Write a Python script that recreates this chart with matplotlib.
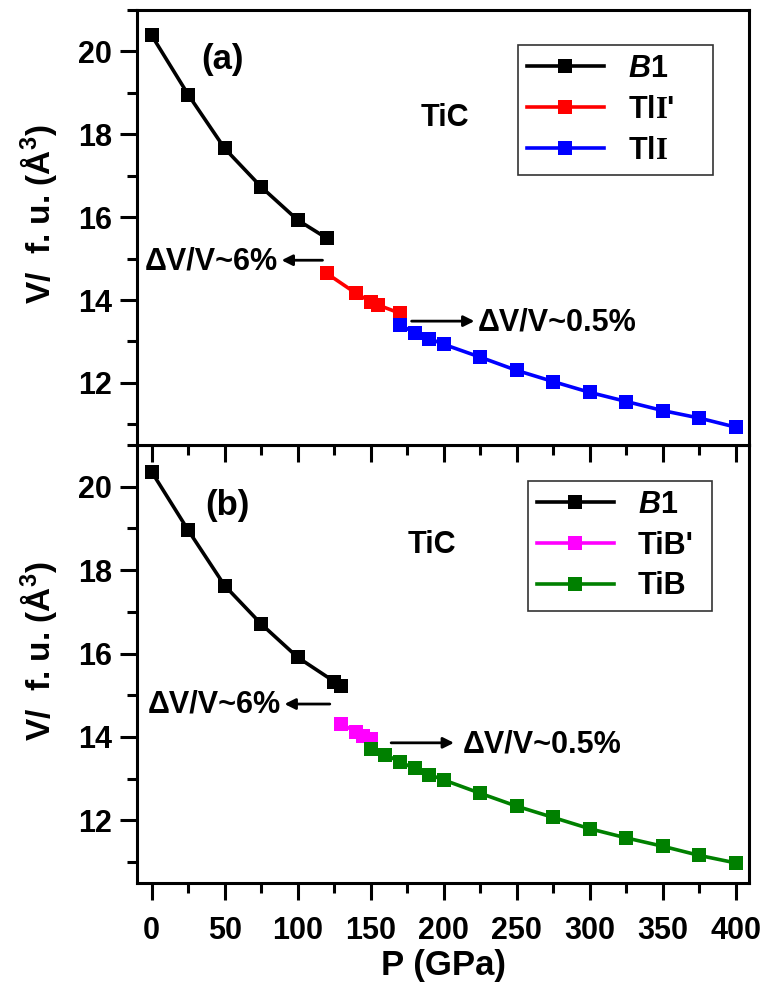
import matplotlib
matplotlib.use("Agg")
import matplotlib.pyplot as plt
from matplotlib.ticker import MultipleLocator

plt.rcParams['font.family'] = ['Liberation Sans', 'DejaVu Sans']
plt.rcParams['font.weight'] = 'bold'
plt.rcParams['mathtext.fontset'] = 'custom'
plt.rcParams['mathtext.rm'] = 'Liberation Serif:bold'
plt.rcParams['mathtext.it'] = 'Liberation Sans:bold:italic'
plt.rcParams['mathtext.bf'] = 'Liberation Sans:bold'

# panel (a): B1 -> TlI' -> TlI
p_b1_a = [0, 25, 50, 75, 100, 120]
v_b1_a = [20.39, 18.96, 17.66, 16.73, 15.93, 15.49]
p_tli2 = [120, 140, 150, 155, 170]
v_tli2 = [14.64, 14.16, 13.96, 13.88, 13.68]
p_tli = [170, 180, 190, 200, 225, 250, 275, 300, 325, 350, 375, 400]
v_tli = [13.40, 13.21, 13.07, 12.93, 12.62, 12.30, 12.03, 11.77, 11.55, 11.33, 11.15, 10.93]

# panel (b): B1 -> TiB' -> TiB
p_b1_b = [0, 25, 50, 75, 100, 125, 130]
v_b1_b = [20.36, 18.96, 17.63, 16.71, 15.91, 15.33, 15.23]
p_tib2 = [130, 140, 145, 150]
v_tib2 = [14.31, 14.12, 14.03, 13.95]
p_tib = [150, 160, 170, 180, 190, 200, 225, 250, 275, 300, 325, 350, 375, 400]
v_tib = [13.72, 13.58, 13.40, 13.25, 13.10, 12.97, 12.65, 12.34, 12.07, 11.80, 11.58, 11.38, 11.16, 10.98]

labels_a = ["$B$1", "Tl$\\mathrm{I}$'", "Tl$\\mathrm{I}$"]
labels_b = ["$B$1", "TiB'", "TiB"]

fig = plt.figure(figsize=(7.67, 9.9), dpi=100)
ax_a = fig.add_axes([0.1786, 0.5505, 0.798, 0.4394])
ax_b = fig.add_axes([0.1786, 0.1081, 0.798, 0.4424])
ax_a.set_zorder(3)

def style(ax, show_xlabels):
    for s in ax.spines.values():
        s.set_linewidth(2.2)
    ax.set_xlim(-10, 409)
    ax.set_ylim(10.5, 21)
    ax.xaxis.set_major_locator(MultipleLocator(50))
    ax.xaxis.set_minor_locator(MultipleLocator(25))
    ax.yaxis.set_major_locator(MultipleLocator(2))
    ax.yaxis.set_minor_locator(MultipleLocator(1))
    ax.tick_params(which='both', direction='out', top=False, right=False, width=2.2, labelsize=22)
    ax.tick_params(which='major', length=12)
    ax.tick_params(which='minor', length=7)
    ax.tick_params(axis='y', pad=6)
    ax.tick_params(axis='x', pad=12, labelbottom=show_xlabels)
    ax.set_ylabel("V/  f. u. (Å$^{\\mathbf{3}}$)", fontsize=24, fontweight='bold')
    ax.yaxis.set_label_coords(-0.128, 0.53)

def series(ax, p, v, c, lab):
    ax.plot(p, v, color=c, lw=2.6, marker='s', ms=9.5, mew=0, label=lab)

series(ax_a, p_b1_a, v_b1_a, 'black', labels_a[0])
series(ax_a, p_tli2, v_tli2, '#ff0000', labels_a[1])
series(ax_a, p_tli, v_tli, '#0000ff', labels_a[2])
series(ax_b, p_b1_b, v_b1_b, 'black', labels_b[0])
series(ax_b, p_tib2, v_tib2, '#ff00ff', labels_b[1])
series(ax_b, p_tib, v_tib, '#008000', labels_b[2])

style(ax_a, False)
style(ax_b, True)
ax_b.set_xlabel("P (GPa)", fontsize=25, fontweight='bold', labelpad=2)

arrow = dict(arrowstyle='-|>', color='black', lw=2, mutation_scale=16, shrinkA=0, shrinkB=0)
ax_a.annotate("", xy=(89, 14.96), xytext=(117, 14.96), arrowprops=arrow)
ax_a.text(-4.6, 14.92, "ΔV/V~6%", fontsize=22, ha='left', va='center')
ax_a.annotate("", xy=(221, 13.49), xytext=(178, 13.49), arrowprops=arrow)
ax_a.text(223.5, 13.45, "ΔV/V~0.5%", fontsize=22, ha='left', va='center')

ax_b.annotate("", xy=(91, 14.79), xytext=(122, 14.79), arrowprops=arrow)
ax_b.text(-2.5, 14.79, "ΔV/V~6%", fontsize=22, ha='left', va='center')
ax_b.annotate("", xy=(207, 13.86), xytext=(164, 13.86), arrowprops=arrow)
ax_b.text(213, 13.83, "ΔV/V~0.5%", fontsize=22, ha='left', va='center')

ax_a.text(0.139, 0.887, "(a)", transform=ax_a.transAxes, fontsize=25, ha='center', va='center')
ax_b.text(0.147, 0.863, "(b)", transform=ax_b.transAxes, fontsize=25, ha='center', va='center')
ax_a.text(0.503, 0.752, "TiC", transform=ax_a.transAxes, fontsize=22, ha='center', va='center')
ax_b.text(0.482, 0.772, "TiC", transform=ax_b.transAxes, fontsize=22, ha='center', va='center')

# legend boxes (x0, y0, width, height) in axes fraction
for ax, box in ((ax_a, (0.6225, 0.639, 0.3185, 0.2805)), (ax_b, (0.639, 0.643, 0.3005, 0.275))):
    leg = ax.legend(loc='upper left', bbox_to_anchor=box, mode='expand', borderaxespad=0, fontsize=22,
                    handlelength=2.5, handletextpad=0.8, labelspacing=0.35, borderpad=0.3,
                    fancybox=False, framealpha=1)
    leg.get_frame().set_edgecolor('#333333')
    leg.get_frame().set_linewidth(1.2)

fig.savefig("out.png", dpi=100)
